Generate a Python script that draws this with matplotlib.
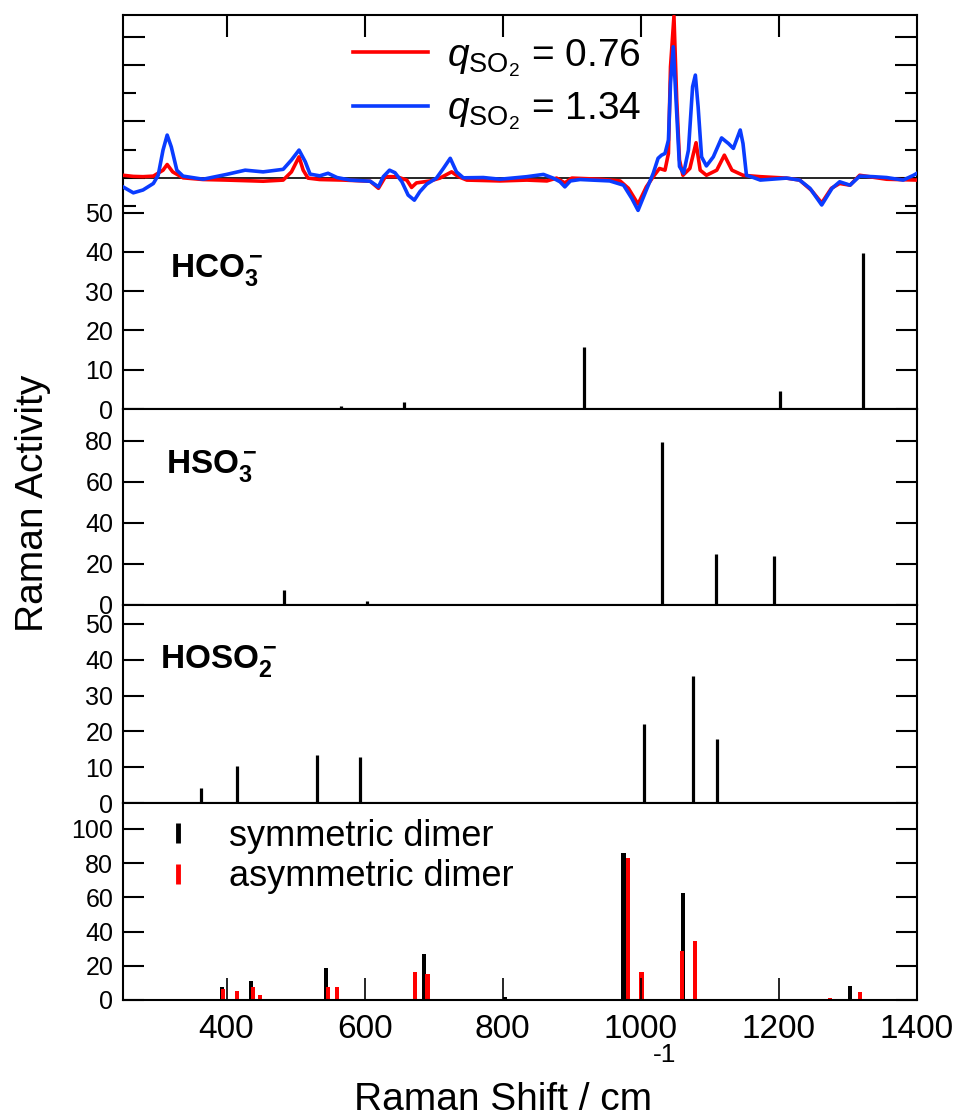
import numpy as np
import matplotlib.pyplot as plt
from matplotlib.lines import Line2D

plt.rcParams['font.family'] = ['Liberation Sans', 'DejaVu Sans']
plt.rcParams['mathtext.fontset'] = 'custom'
plt.rcParams['mathtext.rm'] = 'Liberation Sans'
plt.rcParams['mathtext.it'] = 'Liberation Sans:italic'
plt.rcParams['mathtext.bf'] = 'Liberation Sans:bold'

wn_076 = [250, 265, 279, 294, 308, 314, 322, 337, 366, 400, 453, 482, 494, 505, 511, 518,
          535, 569, 608, 620, 630, 646, 661, 668, 675, 695, 709, 726, 736, 748, 796, 835,
          864, 878, 890, 900, 941, 970, 982, 996, 1008, 1018, 1027, 1035, 1040, 1043, 1048,
          1052, 1056, 1061, 1071, 1080, 1086, 1095, 1110, 1121, 1132, 1148, 1173, 1211, 1230,
          1247, 1262, 1276, 1288, 1303, 1317, 1356, 1400]
int_076 = [0.10, 0.06, 0.05, 0.07, 0.28, 0.48, 0.22, 0.01, -0.05, -0.07, -0.11, -0.07, 0.22,
           0.75, 0.28, 0.0, -0.05, -0.07, -0.11, -0.36, 0.05, 0.05, -0.07, -0.33, -0.17, -0.10,
           0.0, 0.22, 0.05, -0.07, -0.10, -0.07, -0.10, 0.0, -0.17, 0.0, -0.04, -0.10, -0.36,
           -0.92, -0.31, 0.05, 0.34, 0.28, 0.87, 3.93, 5.72, 2.76, 0.64, 0.10, 0.34, 1.25, 0.28,
           0.10, 0.28, 0.81, 0.28, 0.10, 0.05, 0.0, -0.07, -0.43, -0.88, -0.36, -0.19, -0.25,
           0.10, -0.04, -0.07]

wn_134 = [250, 265, 279, 294, 301, 308, 314, 320, 328, 337, 366, 400, 427, 453, 482, 494, 505,
          514, 521, 535, 547, 560, 579, 608, 620, 627, 636, 644, 654, 663, 672, 680, 690, 704,
          714, 724, 733, 743, 772, 796, 835, 859, 873, 883, 890, 898, 912, 955, 975, 987, 996,
          1008, 1018, 1025, 1030, 1035, 1040, 1043, 1047, 1051, 1056, 1062, 1069, 1075, 1079,
          1083, 1088, 1095, 1105, 1117, 1127, 1134, 1144, 1148, 1153, 1163, 1173, 1211, 1230,
          1245, 1262, 1277, 1288, 1303, 1317, 1337, 1356, 1380, 1395, 1400]
int_134 = [-0.31, -0.52, -0.42, -0.19, 0.10, 0.99, 1.52, 1.10, 0.28, 0.07, -0.04, 0.13, 0.28,
           0.22, 0.31, 0.64, 0.99, 0.58, 0.14, 0.08, 0.17, 0.02, -0.07, -0.11, -0.31, 0.05, 0.28,
           0.19, -0.13, -0.60, -0.78, -0.48, -0.21, 0.0, 0.34, 0.70, 0.22, 0.01, 0.02, -0.04,
           0.05, 0.13, 0.0, -0.13, -0.31, -0.10, -0.05, -0.10, -0.25, -0.72, -1.14, -0.42, 0.17,
           0.70, 0.81, 0.87, 1.34, 3.35, 4.64, 2.76, 0.41, 0.17, 0.99, 3.23, 3.64, 2.52, 0.75,
           0.43, 0.75, 1.42, 1.22, 1.05, 1.70, 1.22, 0.10, 0.02, -0.07, 0.0, -0.07, -0.36, -0.95,
           -0.36, -0.13, -0.25, 0.07, 0.05, 0.02, -0.07, 0.10, 0.17]

## calculated Raman activities
hco3_freq = [528, 566, 657, 829, 918, 1202, 1322]
hco3_act = [0.3, 0.8, 1.7, 0.2, 15.9, 4.7, 39.8]

hso3_freq = [483, 603, 1030, 1109, 1193]
hso3_act = [7.3, 1.9, 79.7, 24.7, 24.1]

hoso2_freq = [363, 415, 531, 594, 1004, 1075, 1110]
hoso2_act = [4.3, 10.3, 13.4, 12.9, 22.1, 35.5, 18.0]

sym_freq = [393, 435, 544, 686, 803, 975, 1061, 1303]
sym_act = [7.5, 11.1, 18.9, 26.9, 1.6, 86.1, 62.4, 8.0]
asym_freq = [395, 415, 438, 448, 547, 560, 673, 691, 743, 981, 1001, 1060, 1079, 1274, 1317]
asym_act = [6.4, 5.3, 7.4, 2.9, 7.4, 7.4, 16.2, 15.2, 0.3, 82.8, 16.4, 28.6, 34.7, 1.2, 4.7]

xticks = [400, 600, 800, 1000, 1200, 1400]

fig = plt.figure(figsize=(9.6, 11.17), dpi=100)
L, W = 0.1281, 0.8271
ax1 = fig.add_axes([L, 0.6338, W, 0.3527])
axs = fig.add_axes([L, 0.6338, W, 0.3527], facecolor='none')
ax2 = fig.add_axes([L, 0.4584, W, 0.1755])
ax3 = fig.add_axes([L, 0.2811, W, 0.1773])
ax4 = fig.add_axes([L, 0.1048, W, 0.1764])

for ax in (ax1, axs, ax2, ax3, ax4):
    ax.set_xlim(250, 1400)
    for sp in ax.spines.values():
        sp.set_linewidth(1.5)

## spectra
axs.axhline(0, color='k', lw=1.2)
axs.plot(wn_076, int_076, color='#ff0000', lw=2.6, solid_joinstyle='round',
         label=r'$q_{\mathregular{SO}_2}$ = 0.76')
axs.plot(wn_134, int_134, color='#0a3cff', lw=2.6, solid_joinstyle='round',
         label=r'$q_{\mathregular{SO}_2}$ = 1.34')
axs.set_ylim(-8.16, 5.76)
for sp in axs.spines.values():
    sp.set_visible(False)
axs.set_yticks([0, 2, 4, 5])
axs.set_yticks([-1, 1, 3], minor=True)
axs.set_xticks(xticks[:-1])
axs.tick_params(axis='x', which='both', direction='in', top=True, bottom=False,
                labeltop=False, labelbottom=False, length=16, width=1.5)
axs.tick_params(axis='y', which='major', direction='in', left=True, right=True,
                labelleft=False, length=16, width=1.5)
axs.tick_params(axis='y', which='minor', direction='in', left=True, right=True,
                labelleft=False, length=9, width=1.5)
axs.legend(loc='upper left', bbox_to_anchor=(353 / 960, 1 - 37 / 1117),
           bbox_transform=fig.transFigure, frameon=False, fontsize=28,
           handlelength=1.92, handletextpad=0.5, labelspacing=0.3,
           borderpad=0, borderaxespad=0)

## monomers
panels = [(ax1, hco3_freq, hco3_act, 100.25, range(0, 51, 10), r'$\mathbf{HCO_3^-}$', 0.059, 0.335),
          (ax2, hso3_freq, hso3_act, 95.6, range(0, 81, 20), r'$\mathbf{HSO_3^-}$', 0.054, 0.673),
          (ax3, hoso2_freq, hoso2_act, 55.3, range(0, 51, 10), r'$\mathbf{HOSO_2^-}$', 0.047, 0.682)]
for ax, f, a, top, yt, lab, tx, ty in panels:
    ax.vlines(f, 0, a, color='k', lw=2.3)
    ax.set_ylim(0, top)
    ax.set_yticks(list(yt))
    ax.tick_params(axis='x', bottom=False, labelbottom=False)
    ax.tick_params(axis='y', direction='in', left=True, right=True, length=15,
                   width=1.5, labelsize=18, pad=7)
    ax.text(tx, ty, lab, transform=ax.transAxes, fontsize=24, va='baseline', ha='left')

## dimers
ax4.bar(sym_freq, sym_act, width=6, color='k')
ax4.bar(asym_freq, asym_act, width=6, color='#ff0000')
ax4.set_ylim(0, 115.2)
ax4.set_yticks(range(0, 101, 20))
ax4.set_xticks(xticks)
ax4.tick_params(axis='y', direction='in', left=True, right=True, length=15,
                width=1.5, labelsize=18, pad=7)
ax4.tick_params(axis='x', direction='in', length=16, width=1.2, labelsize=24, pad=10)
hd = [Line2D([], [], color='k', marker='|', ls='none', markersize=15, mew=3.5),
      Line2D([], [], color='#ff0000', marker='|', ls='none', markersize=15, mew=3.5)]
ax4.legend(hd, ['symmetric dimer', 'asymmetric dimer'], loc='upper left',
           bbox_to_anchor=(160 / 960, 1 - 819 / 1117), bbox_transform=fig.transFigure,
           frameon=False, fontsize=26, handlelength=1.0, handletextpad=0.9,
           labelspacing=0.15, borderpad=0, borderaxespad=0)

fig.text(33 / 960, 1 - 503 / 1117, 'Raman Activity', rotation=90, ha='center',
         va='center', fontsize=28)
fig.text(652 / 960, 1 - 1110 / 1117, 'Raman Shift / cm', ha='right',
         va='baseline', fontsize=28)
fig.text(653 / 960, 1 - 1062 / 1117, '-1', ha='left', va='baseline', fontsize=19)

fig.savefig('out.png', dpi=100)
